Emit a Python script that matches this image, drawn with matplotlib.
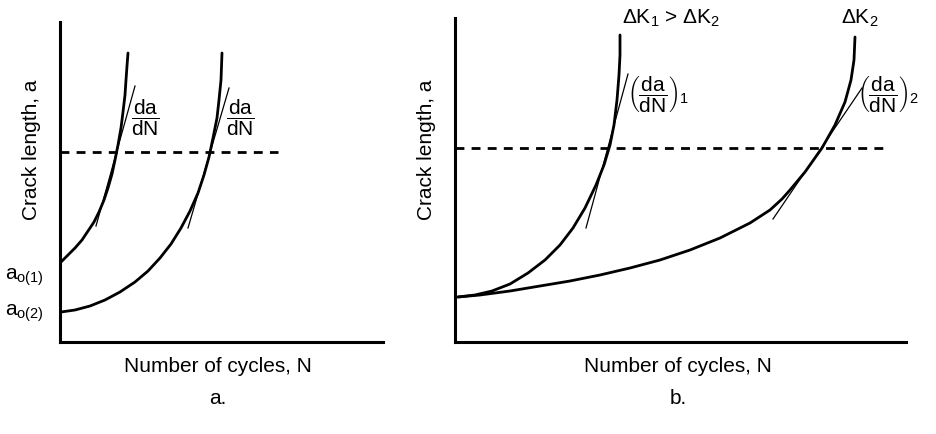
import numpy as np
import matplotlib
matplotlib.use("Agg")
import matplotlib.pyplot as plt

plt.rcParams['font.family'] = ['Liberation Sans', 'DejaVu Sans']
plt.rcParams['mathtext.fontset'] = 'custom'
plt.rcParams['mathtext.rm'] = 'Liberation Sans'
plt.rcParams['mathtext.it'] = 'Liberation Sans'

# panel a: two starting crack lengths, same dK
a1_n = [1, 8, 15, 22, 28, 34, 39, 44, 48, 52, 55, 58, 61, 63, 65, 66, 67, 68]
a1_a = [80, 87, 94, 102, 111, 120, 130, 142, 154, 168, 182, 197, 214, 230, 247, 262, 276, 289]
a2_n = [1, 15, 30, 45, 60, 75, 88, 100, 111, 121, 130, 138, 144, 149, 153, 157, 159, 161, 162]
a2_a = [30, 32, 36, 42, 50, 60, 71, 84, 98, 114, 131, 149, 167, 185, 204, 224, 242, 262, 289]
tan_a1_n = [36, 75]
tan_a1_a = [116, 256]
tan_a2_n = [128, 169]
tan_a2_a = [114, 254]
dash_a_n = [0, 218]
dash_a_a = [190, 190]

# panel b: same starting length, two dK
b1_n = [3, 20, 37, 55, 73, 90, 105, 118, 130, 141, 149, 155, 159, 162, 164, 165, 165]
b1_a = [45, 47, 51, 58, 69, 82, 97, 114, 134, 157, 177, 197, 217, 242, 267, 287, 307]
b2_n = [3, 25, 55, 85, 115, 145, 175, 205, 235, 265, 295, 315, 327, 335, 350, 367, 380, 390, 396, 399, 400]
b2_a = [45, 47, 51, 56, 61, 67, 74, 82, 92, 104, 119, 132, 143, 152, 170, 194, 217, 240, 262, 282, 305]
tan_b1_n = [131, 173]
tan_b1_a = [114, 268]
tan_b2_n = [318, 407]
tan_b2_a = [123, 254]
dash_b_n = [0, 433]
dash_b_a = [194, 194]

W, H = 937, 434
fig = plt.figure(figsize=(W / 100, H / 100), dpi=100)

def make_ax(left, right, top, bottom):
    ax = fig.add_axes([left / W, (H - bottom) / H, (right - left) / W, (bottom - top) / H])
    ax.set_xlim(0, right - left)
    ax.set_ylim(0, bottom - top)
    for s in ['top', 'right']:
        ax.spines[s].set_visible(False)
    for s in ['left', 'bottom']:
        ax.spines[s].set_linewidth(2.2)
    ax.set_xticks([])
    ax.set_yticks([])
    ax.patch.set_alpha(0)
    return ax

ax_a = make_ax(60, 383, 22, 342)
ax_b = make_ax(455, 906, 18, 342)

lw_main = 2.0
lw_tan = 0.9
dash = (0, (3.2, 2.6))

for ax, curves, tans, dn, da in [
        (ax_a, [(a1_n, a1_a), (a2_n, a2_a)], [(tan_a1_n, tan_a1_a), (tan_a2_n, tan_a2_a)], dash_a_n, dash_a_a),
        (ax_b, [(b1_n, b1_a), (b2_n, b2_a)], [(tan_b1_n, tan_b1_a), (tan_b2_n, tan_b2_a)], dash_b_n, dash_b_a)]:
    for n, a in curves:
        ax.plot(n, a, color='k', lw=lw_main, solid_capstyle='round', solid_joinstyle='round')
    for n, a in tans:
        ax.plot(n, a, color='k', lw=lw_tan)
    ax.plot(dn, da, color='k', lw=2.0, linestyle=dash)

fs = 15
frac = r'$\dfrac{\mathrm{da}}{\mathrm{dN}}$'
ax_a.text(85, 224, frac, fontsize=fs, ha='center', va='center')
ax_a.text(180, 224, frac, fontsize=fs, ha='center', va='center')
ax_a.text(-55, 65, r'a$_{\mathrm{o(1)}}$', fontsize=fs, ha='left', va='center', clip_on=False)
ax_a.text(-55, 29, r'a$_{\mathrm{o(2)}}$', fontsize=fs, ha='left', va='center', clip_on=False)

ax_b.text(216, 324, r'ΔK$_1$ > ΔK$_2$', fontsize=fs, ha='center', va='center', clip_on=False)
ax_b.text(405, 324, r'ΔK$_2$', fontsize=fs, ha='center', va='center', clip_on=False)
ax_b.text(172, 247, r'$\left(\dfrac{\mathrm{da}}{\mathrm{dN}}\right)_1$', fontsize=fs,
          ha='left', va='center')
ax_b.text(402, 247, r'$\left(\dfrac{\mathrm{da}}{\mathrm{dN}}\right)_2$', fontsize=fs,
          ha='left', va='center', clip_on=False)

for ax, ycx, xcx, name, left in [(ax_a, 32, 218, 'a.', 60), (ax_b, 427, 678, 'b.', 455)]:
    ax.text(ycx - left, 192, 'Crack length, a', fontsize=fs, rotation=90,
            ha='center', va='center', clip_on=False)
    ax.text(xcx - left, -25, 'Number of cycles, N', fontsize=fs,
            ha='center', va='center', clip_on=False)
    ax.text(xcx - left, -56, name, fontsize=fs, ha='center', va='center', clip_on=False)

fig.savefig('out.png', dpi=100)
